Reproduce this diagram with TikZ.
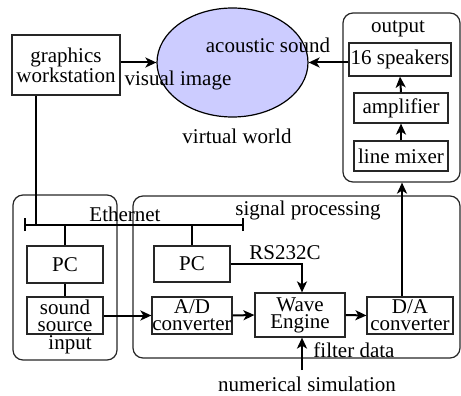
\documentclass[tikz,border=0pt]{standalone}
\usepackage{fontspec}
\setmainfont{Liberation Serif}
\usetikzlibrary{arrows.meta,shapes.geometric}
\begin{document}
\begin{tikzpicture}[x=1pt,y=-1pt,
  font=\fontsize{21}{17}\selectfont,
  box/.style={draw=black!85,line width=1.2pt,inner sep=0pt,align=center},
  grp/.style={draw=black!85,line width=1.2pt,rounded corners=10pt,inner sep=0pt},
  lbl/.style={inner sep=0pt},
  arr/.style={line width=2pt,-{Stealth[length=11pt,width=10pt,inset=3pt]}},
  wire/.style={line width=1.2pt}]
\useasboundingbox (0,0) rectangle (461,396);
% groups
\node[grp,minimum width=117pt,minimum height=169pt] (out) at (401.5,97.5) {};
\node[grp,minimum width=104pt,minimum height=165pt] (inp) at (65,277.5) {};
\node[grp,minimum width=327pt,minimum height=162pt] (sig) at (296.5,277) {};
% top
\node[box,minimum width=108pt,minimum height=60pt] (gw) at (66,65) {graphics\\workstation};
\node[draw=black,line width=1.2pt,fill={rgb,255:red,204;green,204;blue,255},ellipse,minimum width=151pt,minimum height=109pt,inner sep=0pt] (ell) at (232.5,62.5) {};
\node[box,minimum width=102pt,minimum height=33pt] (sp) at (400,59.5) {16 speakers};
\node[box,minimum width=94pt,minimum height=30pt] (amp) at (401,108) {amplifier};
\node[box,minimum width=94pt,minimum height=30pt] (lm) at (401,156) {line mixer};
% bottom
\node[box,minimum width=76pt,minimum height=37pt] (pc1) at (65,264.5) {PC};
\node[box,minimum width=76pt,minimum height=37pt] (ss) at (65,315.5) {sound\\source};
\node[box,minimum width=76pt,minimum height=36pt] (pc2) at (192,264) {PC};
\node[box,minimum width=80pt,minimum height=37pt] (ad) at (192,315.5) {A/D\\converter};
\node[box,minimum width=90pt,minimum height=44pt] (we) at (300,315) {Wave\\Engine};
\node[box,minimum width=86pt,minimum height=37pt] (da) at (410,315.5) {D/A\\converter};
% labels
\node[lbl] (lout) at (398,29) {output};
\node[lbl] (lac) at (268,45) {acoustic sound};
\node[lbl] (lvi) at (178,80) {visual image};
\node[lbl] (lvw) at (237,136) {virtual world};
\node[lbl] (leth) at (125,214) {Ethernet};
\node[lbl] (lsig) at (308,210) {signal processing};
\node[lbl] (lrs) at (285,253) {RS232C};
\node[lbl] (lin) at (70,345) {input};
\node[lbl] (lfd) at (354,350) {filter data};
\node[lbl] (lns) at (307,384) {numerical simulation};
% coordinates
\coordinate (ethL) at (25,225);
\coordinate (ethR) at (243,225);
\coordinate (gwdrop) at (36,225);
\coordinate (daup) at (402,0);
\coordinate (fdsrc) at (302,370);
% ethernet
\draw[wire] (ethL) -- (ethR);
\draw[wire] ([yshift=-6pt]ethL) -- ([yshift=7pt]ethL);
\draw[wire] ([yshift=-6pt]ethR) -- ([yshift=7pt]ethR);
\draw[wire] (gw.south -| gwdrop) -- (gwdrop);
\draw[wire] (pc1.north) -- (pc1.north |- ethL);
\draw[wire] (pc2.north) -- (pc2.north |- ethL);
\draw[wire] (pc1.south) -- (ss.north);
% arrows
\draw[arr] (gw.east |- ell.west) -- (ell.west);
\draw[arr] (sp.west |- ell.east) -- (ell.east);
\draw[arr] (lm.north) -- (amp.south);
\draw[arr] (amp.north) -- (sp.south);
\draw[arr] (ss.east) -- (ad.west);
\draw[arr] (ad.east) -- (we.west);
\draw[arr] (we.east) -- (da.west);
\draw[arr] (da.north -| daup) -- (out.south -| daup);
\draw[arr] (pc2.east) -| ([xshift=2pt]we.north);
\draw[arr] (fdsrc) -- (fdsrc |- we.south);
\end{tikzpicture}
\end{document}
